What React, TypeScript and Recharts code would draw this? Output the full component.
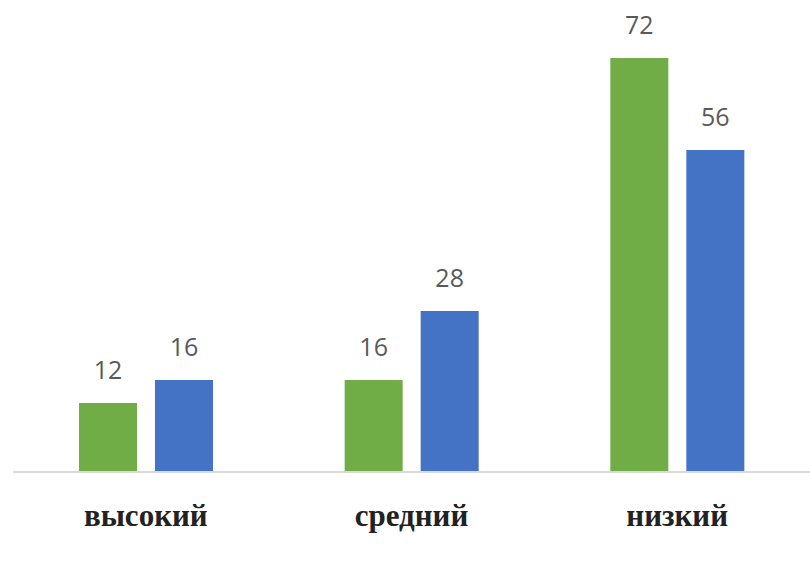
import { Bar, BarChart, LabelList, XAxis, YAxis } from 'recharts';

const categories = ['высокий', 'средний', 'низкий'];
const greenValues = [12, 16, 72];
const blueValues = [16, 28, 56];

const data = categories.map((name, i) => ({
  name,
  green: greenValues[i],
  blue: blueValues[i],
}));

const labelStyle = { fontFamily: 'Open Sans', fontSize: 25, fill: '#595959' };

export default function App() {
  return (
    <div style={{ position: 'fixed', top: 0, left: 0, background: '#fff' }}>
      <BarChart
        width={810}
        height={566}
        data={data}
        margin={{ top: 12, right: 0, bottom: 64, left: 13 }}
        barSize={58}
        barGap={18}
      >
        <YAxis hide domain={[0, 80]} />
        <XAxis
          dataKey="name"
          height={30}
          axisLine={{ stroke: '#d9d9d9', strokeWidth: 2 }}
          tickLine={false}
          tickMargin={26}
          tick={{ fontFamily: 'Liberation Serif', fontSize: 31, fill: '#222', fontWeight: 'bold' }}
        />
        <Bar dataKey="green" fill="#70AD47" isAnimationActive={false}>
          <LabelList dataKey="green" position="top" offset={24} style={labelStyle} />
        </Bar>
        <Bar dataKey="blue" fill="#4472C4" isAnimationActive={false}>
          <LabelList dataKey="blue" position="top" offset={24} style={labelStyle} />
        </Bar>
      </BarChart>
    </div>
  );
}
